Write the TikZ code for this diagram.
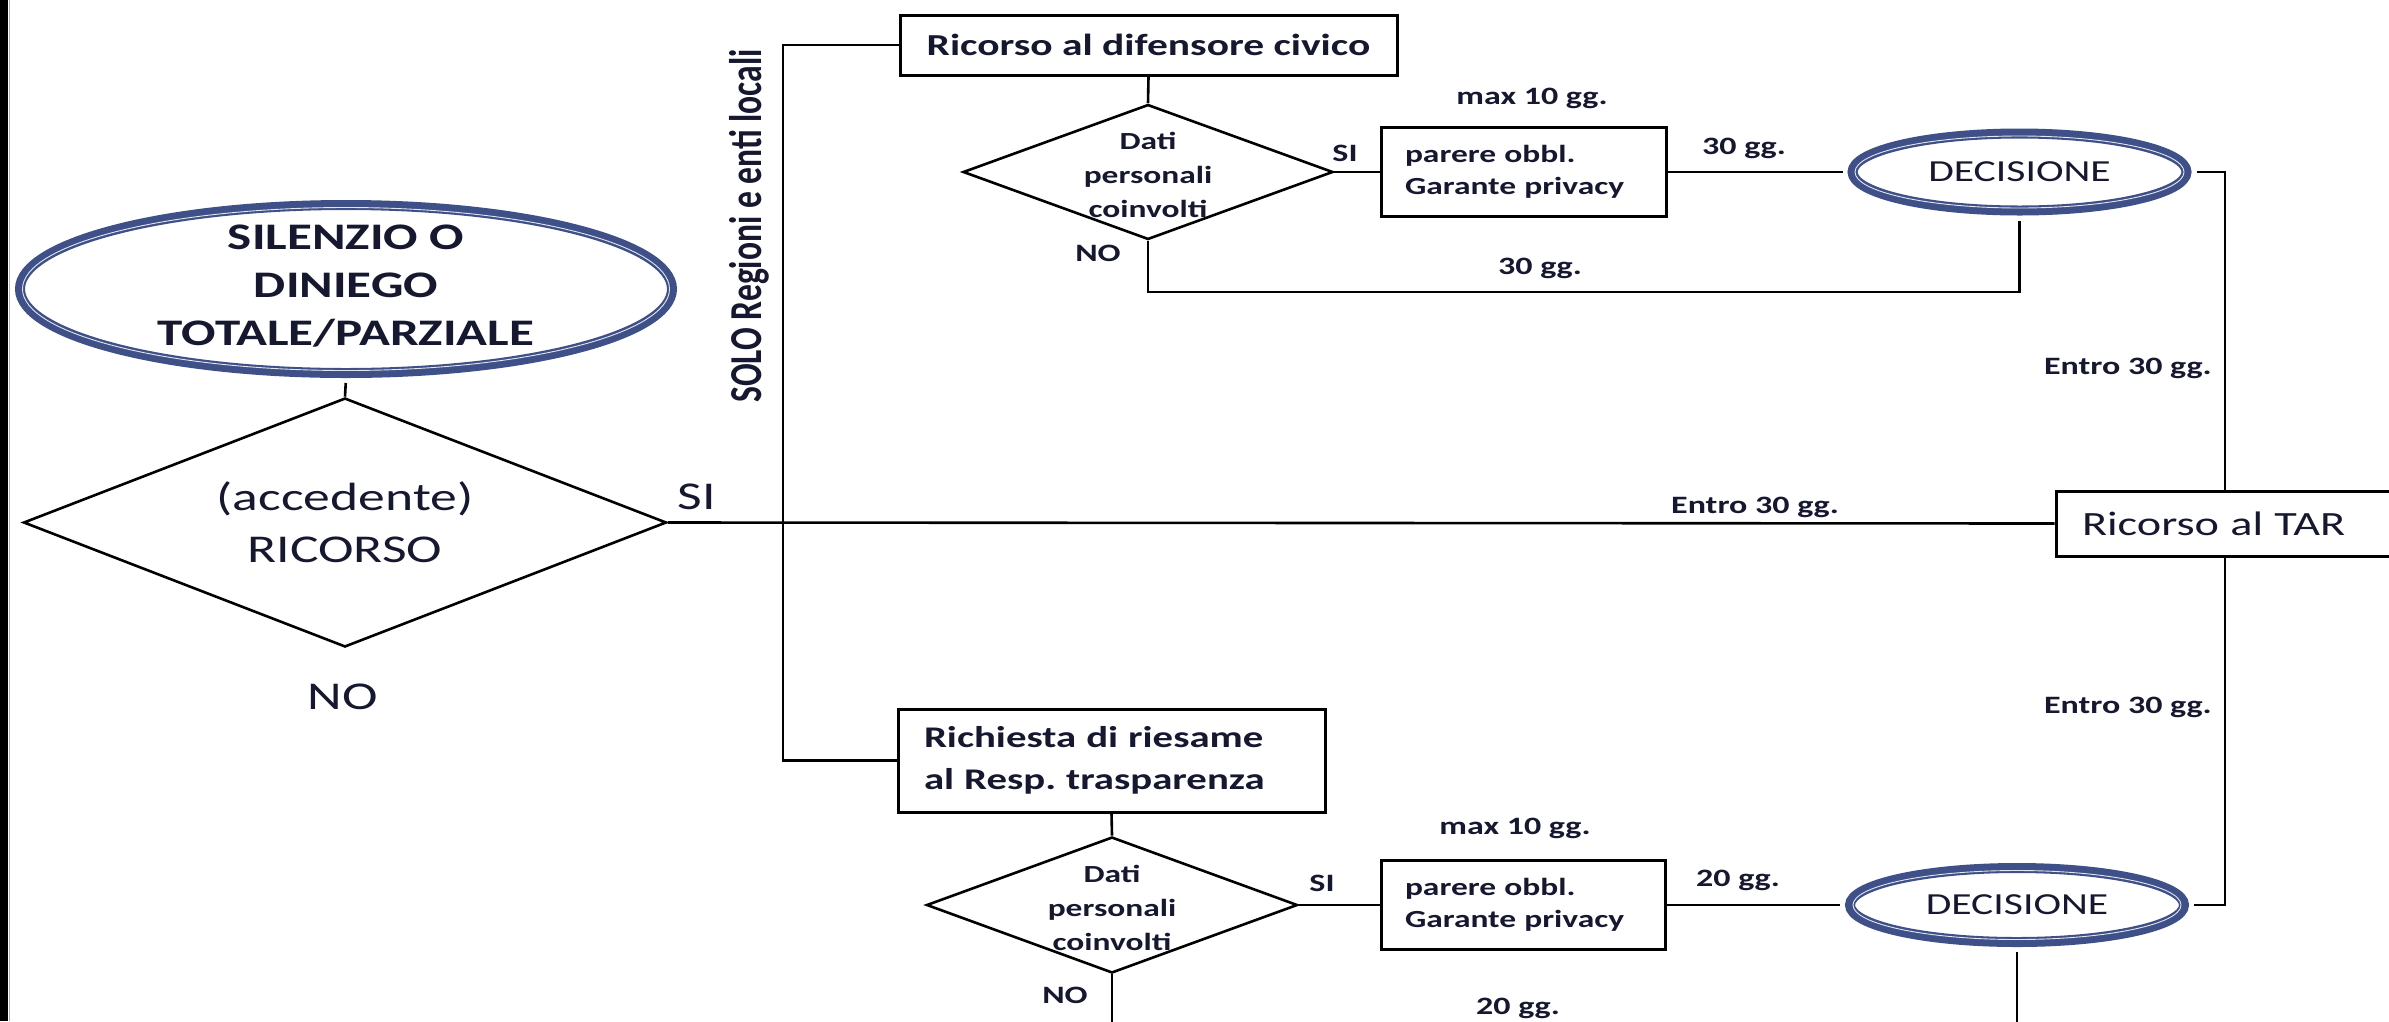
\documentclass[tikz,border=0pt]{standalone}
\usepackage{fontspec}
\setmainfont{Carlito}[FakeStretch=1.36]
\newfontfamily\condfont{Carlito}[FakeStretch=0.735]
\usetikzlibrary{shapes.geometric}
\definecolor{navy}{RGB}{62,80,135}
\definecolor{ink}{RGB}{22,24,48}
\frenchspacing
\begin{document}
\begin{tikzpicture}[x=1pt,y=-1pt,
  ln/.style={line width=2.6pt, draw=black},
  box/.style={draw=black, line width=3pt, rectangle, inner sep=0pt, text=ink},
  dia/.style={draw=black, line width=2.6pt, diamond, inner sep=0pt},
  ell/.style={ellipse, draw=navy, line width=10pt, inner sep=0pt, text=ink},
  wl/.style={draw=white!85!navy, line width=0.9pt},
  lab/.style={text=ink, inner sep=0pt},
  small/.style={lab, font=\bfseries\fontsize{25}{30}\selectfont},
  big/.style={lab, font=\fontsize{39.4}{52}\selectfont}
]
\useasboundingbox (0,0) rectangle (2389,1021);
\clip (0,0) rectangle (2389,1021);
% left bar
\fill[black] (0,0) rectangle (8,1021);
\draw[gray!60, line width=1pt] (9.5,0) -- (9.5,1021);

% start
\node[ell, minimum width=652pt, minimum height=168pt] (big) at (346,289) {};
\draw[wl] (big.center) ellipse [x radius=323.5, y radius=81.5];
\node[lab, align=center, font=\bfseries\fontsize{37.5}{48}\selectfont] (tbig) at (346,286) {SILENZIO O\\DINIEGO\\TOTALE/PARZIALE};

\node[dia, minimum width=643pt, minimum height=249pt] (dmain) at (345,522.5) {};
\node[big, align=center] (tmain) at (345,522) {(accedente)\\RICORSO};
\node[big] (si0) at (697,497) {SI};
\node[big] (no0) at (343,697) {NO};
\node[lab, rotate=90, font=\condfont\bfseries\fontsize{45.7}{50}\selectfont] (solo) at (749,226) {SOLO Regioni e enti locali};

% upper branch
\node[box, minimum width=497pt, minimum height=60pt, font=\bfseries\fontsize{30.5}{36}\selectfont] (civ) at (1148.5,45) {Ricorso al difensore civico};
\node[dia, minimum width=370pt, minimum height=135pt] (d1) at (1148,172) {};
\node[lab, align=center, font=\bfseries\fontsize{24.6}{34}\selectfont] (td1) at (1148,175) {Dati\\personali\\coinvolti};
\node[small] (si1) at (1345,153) {SI};
\node[small] (no1) at (1098,253) {NO};
\node[box, minimum width=285pt, minimum height=89pt, text width=237pt, inner xsep=24pt, align=left, font=\bfseries\fontsize{24.6}{32}\selectfont] (par1) at (1523.5,172) {parere obbl.\\Garante privacy};
\node[small] (max1) at (1532,98) {max 10 gg.};
\node[small] (g30a) at (1744,148) {30 gg.};
\node[small] (g30b) at (1540,268) {30 gg.};
\node[ell, minimum width=334pt, minimum height=77pt, font=\fontsize{30.6}{36}\selectfont] (dec1) at (2019.5,172) {DECISIONE};
\draw[wl] (dec1.center) ellipse [x radius=164.5, y radius=36];

% TAR
\node[box, minimum width=338pt, minimum height=65pt, text width=286pt, inner xsep=26pt, align=left, font=\fontsize{34}{40}\selectfont] (tar) at (2225,523.5) {Ricorso al TAR};
\node[small, anchor=east] (ent1) at (2212,368) {Entro 30 gg.};
\node[small] (ent2) at (1755,507) {Entro 30 gg.};
\node[small, anchor=east] (ent3) at (2212,707) {Entro 30 gg.};

% lower branch
\node[box, minimum width=427pt, minimum height=103pt, text width=375pt, inner xsep=26pt, align=left, font=\bfseries\fontsize{30}{42}\selectfont] (ries) at (1111.5,760.5) {Richiesta di riesame\\al Resp. trasparenza};
\node[dia, minimum width=371pt, minimum height=136pt] (d2) at (1112,905) {};
\node[lab, align=center, font=\bfseries\fontsize{24.6}{34}\selectfont] (td2) at (1112,908) {Dati\\personali\\coinvolti};
\node[small] (si2) at (1322,883) {SI};
\node[small] (no2) at (1065,995) {NO};
\node[box, minimum width=284pt, minimum height=89pt, text width=236pt, inner xsep=24pt, align=left, font=\bfseries\fontsize{24.6}{32}\selectfont] (par2) at (1523,905) {parere obbl.\\Garante privacy};
\node[small] (max2) at (1515,828) {max 10 gg.};
\node[small] (g20a) at (1738,880) {20 gg.};
\node[small] (g20b) at (1518,1008) {20 gg.};
\node[ell, minimum width=334pt, minimum height=74pt, font=\fontsize{30.6}{36}\selectfont] (dec2) at (2017,905) {DECISIONE};
\draw[wl] (dec2.center) ellipse [x radius=164, y radius=34.5];

% connectors
\draw[ln, shorten <=5pt] (big.south) -- (dmain.north);
\draw[ln] (dmain.east) -- (tar.west);
\coordinate (j) at (783,523);
\draw[ln] (civ.west) -| (j) |- (ries.west);
\draw[ln] (civ.south) -- (d1.north);
\draw[ln] (d1.east) -- (par1.west);
\draw[ln, shorten >=5pt] (par1.east) -- (dec1.west);
\coordinate (no1c) at (1600,292);
\draw[ln, shorten >=5pt] (d1.south) |- (no1c) -| (dec1.south);
\draw[ln, shorten <=5pt] (dec1.east) -| (tar.north);
\draw[ln, shorten >=5pt] (tar.south) |- (dec2.east);
\draw[ln] (ries.south) -- (d2.north);
\draw[ln] (d2.east) -- (par2.west);
\draw[ln, shorten >=5pt] (par2.east) -- (dec2.west);
\coordinate (e1) at (1112,1030);
\coordinate (e2) at (2017,1030);
\draw[ln] (d2.south) -- (e1);
\draw[ln, shorten <=5pt] (dec2.south) -- (e2);
\end{tikzpicture}
\end{document}
